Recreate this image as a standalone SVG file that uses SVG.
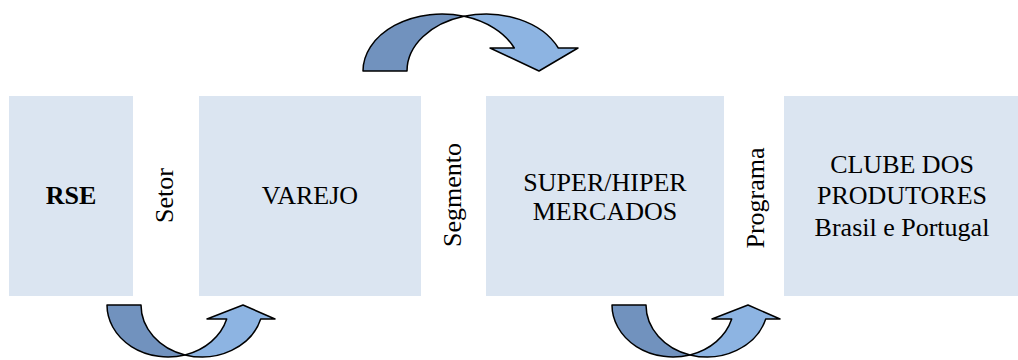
<svg xmlns="http://www.w3.org/2000/svg" width="1018" height="360" viewBox="0 0 1018 360">
<style>
.box{fill:#DBE5F1;stroke:none}
text{font-family:'Liberation Serif','Times New Roman',serif;font-size:26px;fill:#000;text-anchor:middle}
.b{font-weight:bold}
.dk{fill:#7192BE;stroke:#000;stroke-width:1.5;stroke-linejoin:round}
.lt{fill:#8DB4E2;stroke:#000;stroke-width:1.5;stroke-linejoin:round}
</style>
<rect width="1018" height="360" fill="#fff"/>
<g id="node-rse">
<rect class="box" x="9" y="96" width="124" height="200"/>
<text class="b" x="71" y="204" font-family="Liberation Serif, serif">RSE</text>
</g>
<g id="label-setor">
<text transform="translate(173,195.5) rotate(-90)" font-family="Liberation Serif, serif">Setor</text>
</g>
<g id="node-varejo">
<rect class="box" x="199" y="96" width="222" height="200"/>
<text x="310" y="204" font-family="Liberation Serif, serif">VAREJO</text>
</g>
<g id="label-segmento">
<text transform="translate(461,195) rotate(-90)" font-family="Liberation Serif, serif">Segmento</text>
</g>
<g id="node-super">
<rect class="box" x="486" y="96" width="238" height="200"/>
<text x="605" y="191" font-family="Liberation Serif, serif">SUPER/HIPER</text>
<text x="605" y="220" font-family="Liberation Serif, serif">MERCADOS</text>
</g>
<g id="label-programa">
<text transform="translate(764,198) rotate(-90)" font-family="Liberation Serif, serif">Programa</text>
</g>
<g id="node-clube">
<rect class="box" x="784" y="96" width="240" height="200"/>
<text x="902" y="173" font-family="Liberation Serif, serif">CLUBE DOS</text>
<text x="902" y="204" font-family="Liberation Serif, serif">PRODUTORES</text>
<text x="902" y="236" font-family="Liberation Serif, serif">Brasil e Portugal</text>
</g>
<g id="connectors">
<g id="arrow-top">
<path class="dk" d="M363,71 A79,57 0 0 1 464,16.3 A79,57 0 0 0 407,71 Z"/>
<path class="lt" d="M464,16.3 A79,57 0 0 1 558.3,48 L578,48 L539,71 L490,48 L514.3,48 A79,57 0 0 0 464,16.3 Z"/>
</g>
<g id="arrow-bottom-left">
<path class="dk" d="M107,305 A61,52 0 0 0 185,354.9 A61,52 0 0 1 141,305 Z"/>
<path class="lt" d="M185,354.9 A61,52 0 0 0 260.7,319 L275,319 L243,305 L207,319 L226.7,319 A61,52 0 0 1 185,354.9 Z"/>
</g>
<g id="arrow-bottom-right" transform="translate(505,0)">
<path class="dk" d="M107,305 A61,52 0 0 0 185,354.9 A61,52 0 0 1 141,305 Z"/>
<path class="lt" d="M185,354.9 A61,52 0 0 0 260.7,319 L275,319 L243,305 L207,319 L226.7,319 A61,52 0 0 1 185,354.9 Z"/>
</g>
</g>
</svg>
